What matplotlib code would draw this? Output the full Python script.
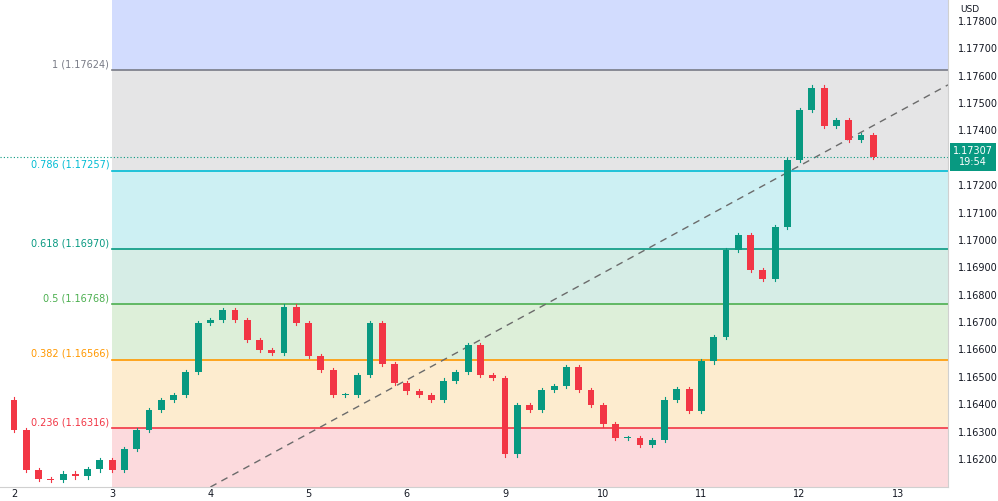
import matplotlib
matplotlib.use("Agg")
import matplotlib.pyplot as plt
from matplotlib.patches import Rectangle

closes = [1.16420,
 1.16310,1.16163,1.16130,1.16127,1.16150,1.16140,1.16165,1.16200,
 1.16163,1.16240,1.16310,1.16383,1.16419,1.16437,1.16520,1.16700,
 1.16711,1.16748,1.16711,1.16638,1.16602,1.16590,1.16760,1.16700,
 1.16580,1.16529,1.16437,1.16437,1.16510,1.16700,1.16550,1.16480,
 1.16450,1.16437,1.16420,1.16490,1.16520,1.16620,1.16510,1.16500,
 1.16220,1.16400,1.16383,1.16456,1.16470,1.16540,1.16456,1.16400,
 1.16330,1.16280,1.16280,1.16255,1.16273,1.16420,1.16460,1.16380,
 1.16560,1.16650,1.16967,1.17022,1.16894,1.16860,1.17050,1.17296,
 1.17479,1.17560,1.17420,1.17442,1.17369,1.17387,1.17307]
start_pos = -0.125
step = 0.125
day_labels = ["2","3","4","5","6","9","10","11","12","13"]
fib_levels = [1.0, 0.786, 0.618, 0.5, 0.382, 0.236]
fib_prices = [1.17624, 1.17257, 1.16970, 1.16768, 1.16566, 1.16316]
fib_colors = ["#787b86", "#00bcd4", "#089981", "#4caf50", "#ff9800", "#f23645"]
zone_colors = ["#d2dcfe", "#e5e5e6", "#cdf0f3", "#d6ede6", "#ddefd9", "#fdeccf", "#fcdadd"]
last_price = 1.17307

W, H = 998, 501
fig = plt.figure(figsize=(W/100, H/100), dpi=100)
ax = fig.add_axes([0, 14/H, 948/W, 487/H])
ymin, ymax = 1.16101, 1.17880
xmin, xmax = -0.1426, 9.511
ax.set_xlim(xmin, xmax); ax.set_ylim(ymin, ymax)

bounds = [ymax] + fib_prices + [ymin]
for i, c in enumerate(zone_colors):
    ax.add_patch(Rectangle((1, bounds[i+1]), xmax-1, bounds[i]-bounds[i+1], color=c, lw=0, zorder=0))
for lv, p, c in zip(fib_levels, fib_prices, fib_colors):
    ax.plot([1, xmax], [p, p], color=c, lw=1.2, zorder=1)
    lab = ("%g" % lv) + " (%.5f)" % p
    ax.text(0.97, p + 0.00003, lab, color=c, fontsize=7, ha="right", va="bottom", zorder=5)

ax.plot([2.0, 9.511], [ymin, 1.17570], ls=(0, (5, 4)), color="#6b6b6b", lw=1, zorder=2)
ax.axhline(last_price, color="#089981", ls=(0, (1, 2)), lw=0.8, zorder=2)

wick = 0.00008
for i in range(1, len(closes)):
    o, c = closes[i-1], closes[i]
    x = start_pos + i*step
    col = "#089981" if c >= o else "#f23645"
    ax.plot([x, x], [min(o, c)-wick, max(o, c)+wick], color=col, lw=0.8, zorder=3)
    ax.add_patch(Rectangle((x-0.035, min(o, c)), 0.07, max(abs(c-o), 0.00002), color=col, lw=0, zorder=4))

ax.axis("off")

for k in range(17):
    p = 1.162 + k*0.001
    if abs(p - last_price) < 0.0003:
        continue
    yf = (14 + 487*(p-ymin)/(ymax-ymin))/H
    fig.text(958/W, yf, "%.5f" % p, fontsize=7, color="#131722", va="center", ha="left")
fig.text(960/W, 1-5/H, "USD", fontsize=6.5, color="#131722", va="top", ha="left")
yf = (14 + 487*(last_price-ymin)/(ymax-ymin))/H
fig.text(973/W, yf, "1.17307\n19:54", fontsize=7, color="white", va="center", ha="center",
         linespacing=1.1, bbox=dict(boxstyle="square,pad=0.35", fc="#089981", ec="none"))
fig.add_artist(plt.Line2D([948/W, 948/W], [14/H, 1], color="#d0d0d0", lw=0.8))
fig.add_artist(plt.Line2D([0, 948/W], [14/H, 14/H], color="#d0d0d0", lw=0.8))

for i, d in enumerate(day_labels):
    xf = (i - xmin)/(xmax - xmin)*948/W
    fig.text(xf, 7/H, d, fontsize=7, color="#131722", ha="center", va="center")

fig.savefig("out.png", dpi=100)
